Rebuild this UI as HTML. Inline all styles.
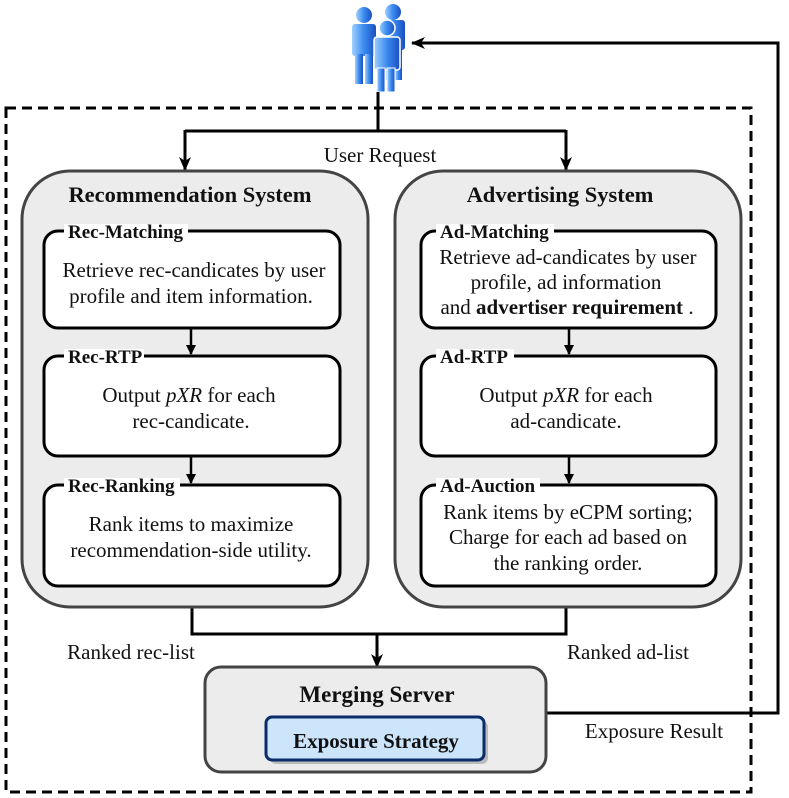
<!DOCTYPE html>
<html><head><meta charset="utf-8"><style>
body{margin:0;background:#fff}
svg{display:block}
text{font-family:"Liberation Serif",serif;fill:#111}
.t{font-size:21px}
.h{font-size:22.5px;font-weight:bold}
.l{font-size:19px;font-weight:bold}
</style></head><body>
<svg width="789" height="798" viewBox="0 0 789 798" xmlns="http://www.w3.org/2000/svg">
<defs>
<marker id="a" markerWidth="10" markerHeight="10" refX="9" refY="5" orient="auto" markerUnits="userSpaceOnUse"><path d="M0,0 L10,5 L0,10 Z" fill="#000"/></marker>
<marker id="b" markerWidth="14" markerHeight="12" refX="13" refY="6" orient="auto" markerUnits="userSpaceOnUse"><path d="M0,0 L14,6 L0,12 L4,6 Z" fill="#000"/></marker>
<linearGradient id="g" x1="0" x2="1"><stop offset="0" stop-color="#9fd0ff"/><stop offset="0.5" stop-color="#3a8af0"/><stop offset="1" stop-color="#1a4fc0"/></linearGradient>
</defs>
<rect x="6" y="108" width="745" height="684" fill="none" stroke="#000" stroke-width="3" stroke-dasharray="10,6"/>
<g fill="url(#g)">
<circle cx="393" cy="12" r="8"/><rect x="383" y="20" width="22" height="30" rx="3"/><rect x="386" y="48" width="7" height="32"/><rect x="395" y="48" width="7" height="32"/>
<circle cx="364" cy="15" r="8"/><rect x="352" y="24" width="24" height="32" rx="3"/><rect x="355" y="54" width="8" height="30"/><rect x="365" y="54" width="8" height="30"/>
<circle cx="387" cy="28" r="8" stroke="#fff" stroke-width="1.5"/><rect x="374" y="37" width="26" height="33" rx="3" stroke="#fff" stroke-width="1.5"/><rect x="377" y="68" width="8" height="24" stroke="#fff"/><rect x="387" y="68" width="8" height="24" stroke="#fff"/>
</g>
<g stroke="#000" stroke-width="3" fill="none">
<path d="M378,92 V131 M185,131 H566"/>
<path d="M185,130 V170" marker-end="url(#b)"/>
<path d="M566,130 V170" marker-end="url(#b)"/>
<path d="M546,713 H778 V43 H412" marker-end="url(#b)"/>
<path d="M192,607 V634 H566 V607"/>
<path d="M377,634 V667" marker-end="url(#b)"/>
</g>
<text class="t" x="380" y="162" text-anchor="middle">User Request</text>
<text class="t" x="131" y="659" text-anchor="middle">Ranked rec-list</text>
<text class="t" x="628" y="659" text-anchor="middle">Ranked ad-list</text>
<text class="t" x="654" y="738" text-anchor="middle">Exposure Result</text>
<rect x="22" y="171" width="346" height="436" rx="48" fill="#ececec" stroke="#444" stroke-width="3"/>
<rect x="395" y="171" width="346" height="436" rx="48" fill="#ececec" stroke="#444" stroke-width="3"/>
<text class="h" x="190" y="202" text-anchor="middle">Recommendation System</text>
<text class="h" x="560" y="202" text-anchor="middle">Advertising System</text>
<g stroke="#000" stroke-width="3" fill="#fff">
<rect x="44" y="231" width="296" height="97" rx="14"/>
<rect x="44" y="356" width="296" height="100" rx="14"/>
<rect x="44" y="485" width="296" height="101" rx="14"/>
<rect x="421" y="231" width="295" height="97" rx="14"/>
<rect x="421" y="356" width="295" height="100" rx="14"/>
<rect x="421" y="485" width="295" height="101" rx="14"/>
</g>
<g stroke="#000" stroke-width="2.5">
<path d="M191,328 V354" marker-end="url(#a)"/>
<path d="M191,456 V483" marker-end="url(#a)"/>
<path d="M569,328 V354" marker-end="url(#a)"/>
<path d="M569,456 V483" marker-end="url(#a)"/>
</g>
<g fill="#fff">
<rect x="64" y="224" width="124" height="12"/><rect x="64" y="349" width="80" height="12"/><rect x="64" y="478" width="116" height="12"/>
<rect x="436" y="224" width="118" height="12"/><rect x="436" y="349" width="78" height="12"/><rect x="436" y="478" width="104" height="12"/>
</g>
<text class="l" x="68" y="238">Rec-Matching</text>
<text class="l" x="68" y="363">Rec-RTP</text>
<text class="l" x="68" y="492">Rec-Ranking</text>
<text class="l" x="440" y="238">Ad-Matching</text>
<text class="l" x="440" y="363">Ad-RTP</text>
<text class="l" x="440" y="492">Ad-Auction</text>
<text class="t" x="194" y="277" text-anchor="middle">Retrieve rec-candicates by user</text>
<text class="t" x="191" y="303" text-anchor="middle">profile and item information.</text>
<text class="t" x="189" y="402" text-anchor="middle">Output <tspan font-style="italic">pXR</tspan> for each</text>
<text class="t" x="191" y="428" text-anchor="middle">rec-candicate.</text>
<text class="t" x="191" y="531" text-anchor="middle">Rank items to maximize</text>
<text class="t" x="191" y="557" text-anchor="middle">recommendation-side utility.</text>
<text class="t" x="568" y="264" text-anchor="middle">Retrieve ad-candicates by user</text>
<text class="t" x="566" y="289" text-anchor="middle">profile, ad information</text>
<text class="t" x="567" y="314" text-anchor="middle">and <tspan font-weight="bold">advertiser requirement</tspan> .</text>
<text class="t" x="566" y="402" text-anchor="middle">Output <tspan font-style="italic">pXR</tspan> for each</text>
<text class="t" x="566" y="428" text-anchor="middle">ad-candicate.</text>
<text class="t" x="568" y="519" text-anchor="middle">Rank items by eCPM sorting;</text>
<text class="t" x="568" y="544" text-anchor="middle">Charge for each ad based on</text>
<text class="t" x="568" y="570" text-anchor="middle">the ranking order.</text>
<rect x="205" y="667" width="341" height="105" rx="16" fill="#ececec" stroke="#444" stroke-width="3"/>
<text class="h" x="377" y="702" text-anchor="middle" style="font-size:23px">Merging Server</text>
<rect x="270" y="721" width="218" height="43" rx="6" fill="#bbb"/>
<rect x="266" y="717" width="218" height="43" rx="6" fill="#cce5fb" stroke="#0a2d6a" stroke-width="3"/>
<text x="376" y="748" text-anchor="middle" style="font-size:21px;font-weight:bold">Exposure Strategy</text>
</svg>
</body></html>
